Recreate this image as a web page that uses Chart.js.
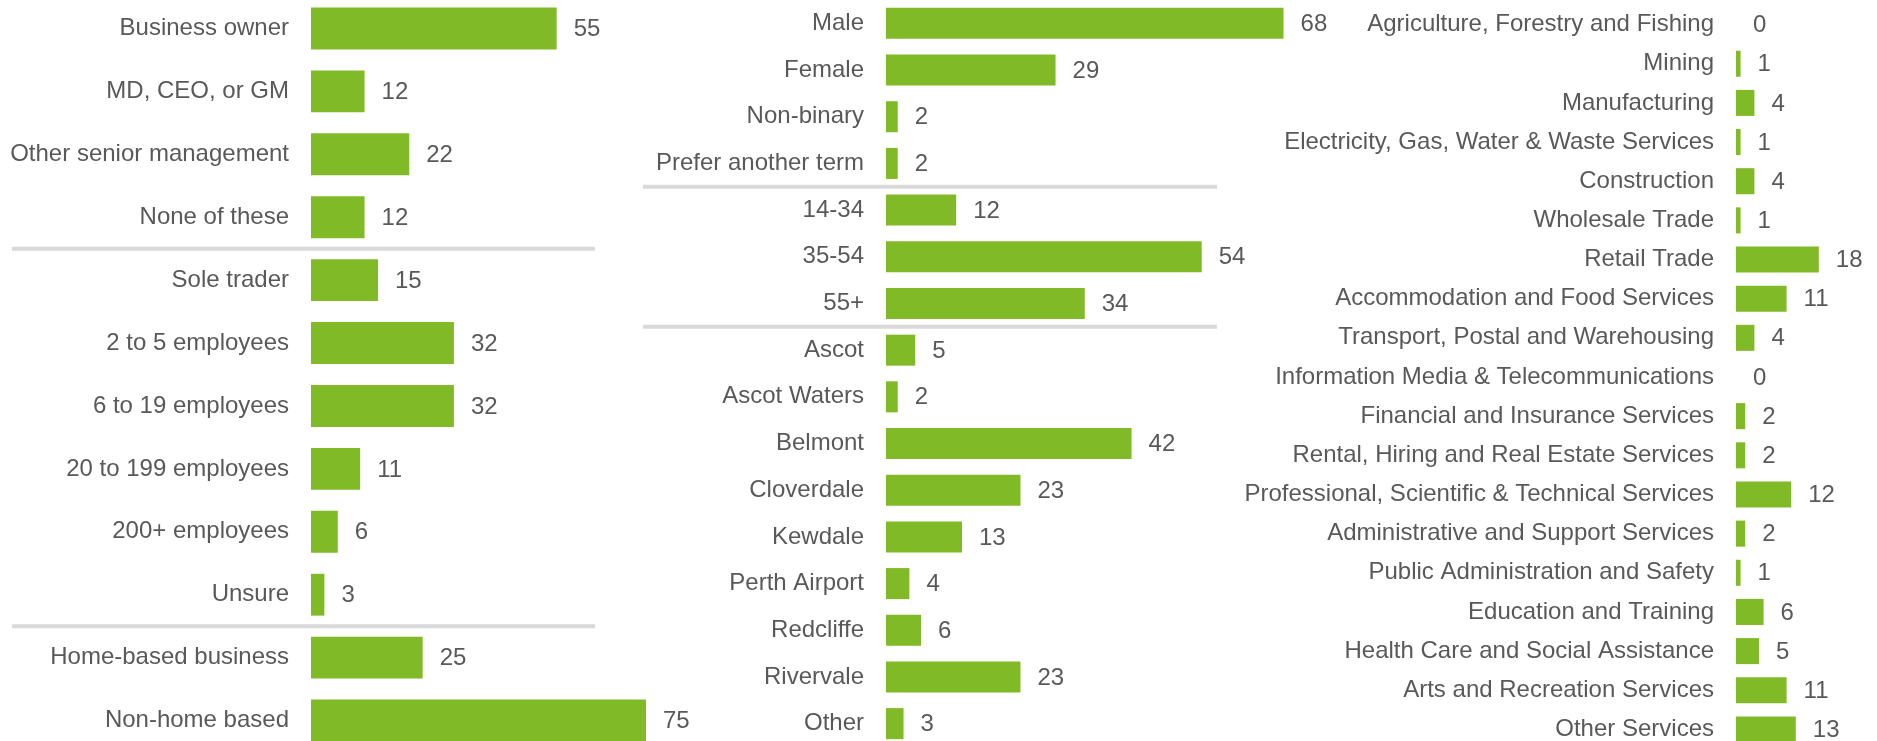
<!DOCTYPE html>
<html lang="en">
<head>
  <meta charset="UTF-8">
  <title>Business Survey Profile</title>

  <!-- Chart.js -->
  <script src="https://cdn.jsdelivr.net/npm/chart.js"></script>

  <style>
    html, body { margin: 0; padding: 0; background: #fff; overflow: hidden; width: 1877px; height: 741px; }
    .panel { position: absolute; }
  </style>
</head>
<body>

  <!-- Role / size / home-based -->
  <div class="panel" style="left:0; top:-3px; width:713px; height:755px;">
    <canvas id="profileChart"></canvas>
  </div>

  <!-- Gender / age / suburb -->
  <div class="panel" style="left:620px; top:0; width:722px; height:747px;">
    <canvas id="demoChart"></canvas>
  </div>

  <!-- Industry -->
  <div class="panel" style="left:1230px; top:5px; width:644px; height:744px;">
    <canvas id="industryChart"></canvas>
  </div>

  <script>
    // data
    const roleLabels = ['Business owner', 'MD, CEO, or GM', 'Other senior management', 'None of these'];
    const roleValues = [55, 12, 22, 12];

    const sizeLabels = ['Sole trader', '2 to 5 employees', '6 to 19 employees', '20 to 199 employees', '200+ employees', 'Unsure'];
    const sizeValues = [15, 32, 32, 11, 6, 3];

    const homeLabels = ['Home-based business', 'Non-home based'];
    const homeValues = [25, 75];

    const genderLabels = ['Male', 'Female', 'Non-binary', 'Prefer another term'];
    const genderValues = [68, 29, 2, 2];

    const ageLabels = ['14-34', '35-54', '55+'];
    const ageValues = [12, 54, 34];

    const suburbLabels = ['Ascot', 'Ascot Waters', 'Belmont', 'Cloverdale', 'Kewdale', 'Perth Airport', 'Redcliffe', 'Rivervale', 'Other'];
    const suburbValues = [5, 2, 42, 23, 13, 4, 6, 23, 3];

    const industryLabels = [
      'Agriculture, Forestry and Fishing', 'Mining', 'Manufacturing',
      'Electricity, Gas, Water & Waste Services', 'Construction', 'Wholesale Trade',
      'Retail Trade', 'Accommodation and Food Services', 'Transport, Postal and Warehousing',
      'Information Media & Telecommunications', 'Financial and Insurance Services',
      'Rental, Hiring and Real Estate Services', 'Professional, Scientific & Technical Services',
      'Administrative and Support Services', 'Public Administration and Safety',
      'Education and Training', 'Health Care and Social Assistance',
      'Arts and Recreation Services', 'Other Services'
    ];
    const industryValues = [0, 1, 4, 1, 4, 1, 18, 11, 4, 0, 2, 2, 12, 2, 1, 6, 5, 11, 13];

    const GREEN = '#80BA27';
    const TEXT = '#595959';
    const FONT = '"Liberation Sans", Arial, sans-serif';

    // value labels + grey group dividers
    const barLabels = {
      id: 'barLabels',
      afterDatasetsDraw(chart, args, opts) {
        const ctx = chart.ctx;
        const meta = chart.getDatasetMeta(0);
        const data = chart.data.datasets[0].data;
        const yScale = chart.scales.y;
        const left = chart.chartArea.left;

        ctx.save();
        ctx.font = '24px ' + FONT;
        ctx.fillStyle = TEXT;
        ctx.textAlign = 'left';
        ctx.textBaseline = 'middle';
        meta.data.forEach((bar, i) => {
          ctx.fillText(String(data[i]), bar.x + 17, bar.y + 1);
        });

        ctx.strokeStyle = '#D9D9D9';
        ctx.lineWidth = 4;
        (opts.breaks || []).forEach(idx => {
          const py = (yScale.getPixelForValue(idx - 1) + yScale.getPixelForValue(idx)) / 2;
          ctx.beginPath();
          ctx.moveTo(left + opts.sepFrom, py);
          ctx.lineTo(left + opts.sepTo, py);
          ctx.stroke();
        });
        ctx.restore();
      }
    };

    function makeChart(id, groups, axisWidth, xMax, sepFrom, sepTo) {
      const labels = [];
      const values = [];
      const breaks = [];
      groups.forEach(([l, v], g) => {
        if (g > 0) breaks.push(labels.length);
        labels.push(...l);
        values.push(...v);
      });

      new Chart(document.getElementById(id), {
        type: 'bar',
        data: {
          labels: labels,
          datasets: [{
            data: values,
            backgroundColor: GREEN,
            barPercentage: 0.665,
            categoryPercentage: 1
          }]
        },
        options: {
          indexAxis: 'y',
          responsive: true,
          maintainAspectRatio: false,
          animation: false,
          layout: { padding: 0 },
          plugins: {
            legend: { display: false },
            tooltip: { enabled: false },
            barLabels: { breaks: breaks, sepFrom: sepFrom, sepTo: sepTo }
          },
          scales: {
            x: { display: false, min: 0, max: xMax },
            y: {
              grid: { display: false, drawTicks: false },
              border: { display: false },
              ticks: {
                autoSkip: false,
                padding: 22,
                color: TEXT,
                font: { size: 24, family: FONT }
              },
              afterFit(scale) {
                scale.width = axisWidth;
                scale.paddingTop = 0;
                scale.paddingBottom = 0;
              }
            }
          }
        },
        plugins: [barLabels]
      });
    }

    makeChart('profileChart',
      [[roleLabels, roleValues], [sizeLabels, sizeValues], [homeLabels, homeValues]],
      311, 90, -299, 284);

    makeChart('demoChart',
      [[genderLabels, genderValues], [ageLabels, ageValues], [suburbLabels, suburbValues]],
      266, 78, -243, 331);

    makeChart('industryChart',
      [[industryLabels, industryValues]],
      506, 30, 0, 0);
  </script>
</body>
</html>
